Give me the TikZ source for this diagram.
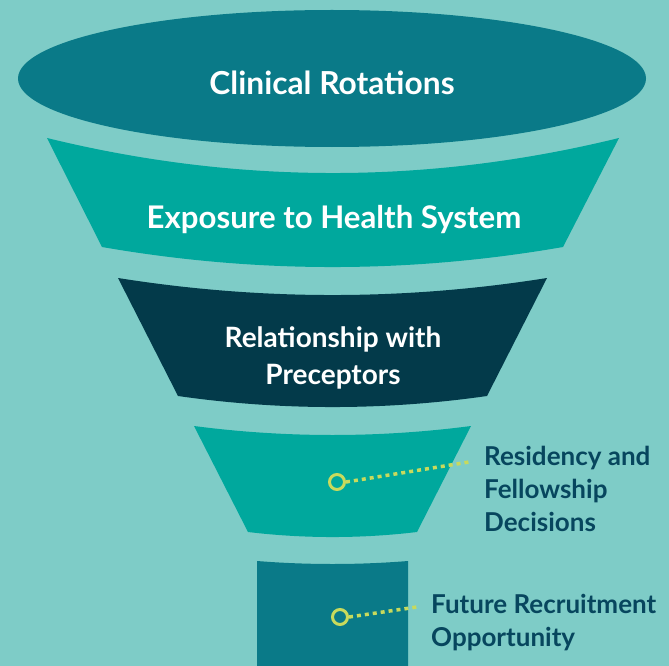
\documentclass[tikz,border=0pt]{standalone}
\usepackage{fontspec}
\setmainfont{Lato}
\definecolor{bgc}{HTML}{7ECCC7}
\definecolor{deepteal}{HTML}{0A7A88}
\definecolor{midteal}{HTML}{00A89D}
\definecolor{navy}{HTML}{033A4A}
\definecolor{lime}{HTML}{C8DA5C}
\definecolor{labelblue}{HTML}{07465E}
\begin{document}
\begin{tikzpicture}[x=1pt,y=-1pt,
  bandtext/.style={text=white,font=\bfseries,align=center,inner sep=0pt},
  sidetext/.style={text=labelblue,font=\bfseries\fontsize{26}{33}\selectfont,align=left,anchor=base west,inner sep=0pt},
  ring/.style={circle,draw=lime,line width=3pt,minimum size=15pt,inner sep=0pt},
  dotline/.style={draw=lime,line width=3.5pt,dash pattern=on 4pt off 4pt}]
\fill[bgc] (0,0) rectangle (669,666);
\useasboundingbox (0,0) rectangle (669,666);
% ellipse
\fill[deepteal] (332,78.5) ellipse [x radius=314, y radius=68.5];
% band 2
\fill[midteal] (47,138) .. controls (238,184.7) and (428,184.7) .. (619,138)
  -- (563,247) .. controls (409,273.7) and (256,273.7) .. (102,247) -- cycle;
% band 3
\fill[navy] (118,278) .. controls (261,300.7) and (404,300.7) .. (547,278)
  -- (487,396) .. controls (384,410.7) and (281,410.7) .. (178,396) -- cycle;
% band 4
\fill[midteal] (194,426) .. controls (286,438) and (379,438) .. (471,426)
  -- (417,532) .. controls (361,538.7) and (304,538.7) .. (248,532) -- cycle;
% bottom rectangle
\fill[deepteal] (257,561) .. controls (307,565) and (358,565) .. (408,561)
  -- (408,670) -- (257,670) -- cycle;
% texts
\node[bandtext,font=\bfseries\fontsize{31.7}{36}\selectfont,anchor=base] (t1) at (332,95) {Clinical Rotations};
\node[bandtext,font=\bfseries\fontsize{31.2}{36}\selectfont,anchor=base] (t2) at (334,228) {Exposure to Health System};
\node[bandtext,font=\bfseries\fontsize{28}{36.6}\selectfont,anchor=base] (t3) at (333,384.3) {Relationship with\\Preceptors};
% callouts
\node[ring] (r1) at (337,482) {};
\node[ring] (r2) at (340,617) {};
\coordinate (e1) at (469,462);
\coordinate (e2) at (417,607);
\draw[dotline] (r1.east) -- (e1);
\draw[dotline] (r2.east) -- (e2);
\node[sidetext] (l1) at (484,531.7) {Residency and\\Fellowship\\Decisions};
\node[sidetext] (l2) at (431,646.7) {Future Recruitment\\Opportunity};
\end{tikzpicture}
\end{document}
